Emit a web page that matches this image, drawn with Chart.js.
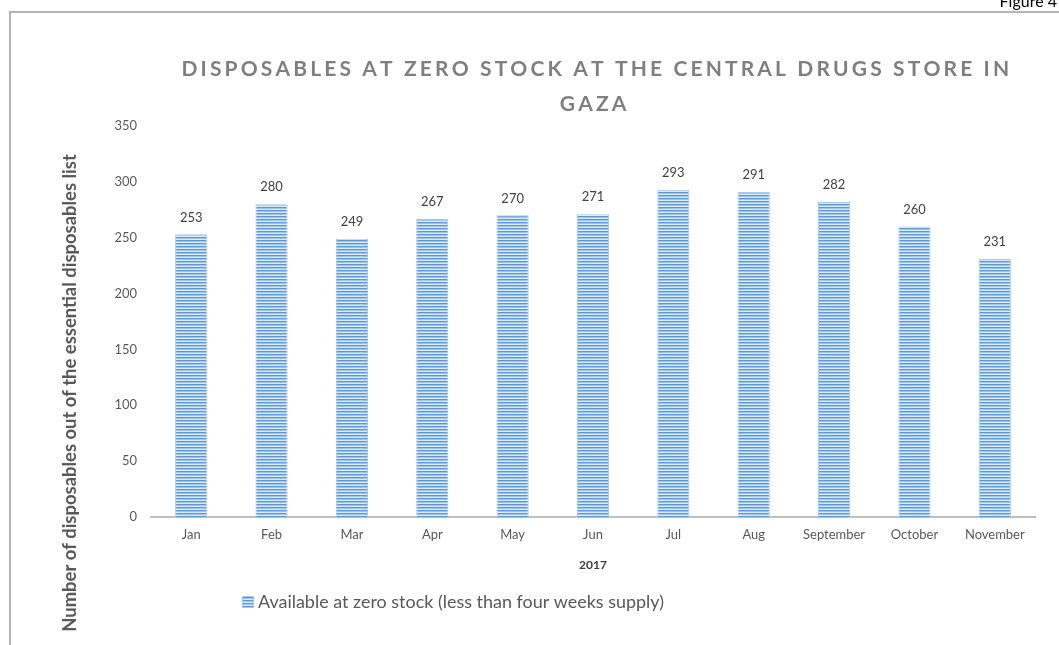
<!DOCTYPE html>
<html><head><meta charset="utf-8">
<script src="https://cdn.jsdelivr.net/npm/chart.js@4.4.1/dist/chart.umd.min.js"></script>
<style>html,body{margin:0;padding:0;background:#fff;overflow:hidden}#wrap{width:1059px;height:645px;position:relative}</style>
</head><body><div id="wrap"><canvas id="c" width="1059" height="645"></canvas></div>
<script>
const categories = ['Jan','Feb','Mar','Apr','May','Jun','Jul','Aug','September','October','November'];
const zeroStock = [253,280,249,267,270,271,293,291,282,260,231];
const yMin = 0, yMax = 350, yStep = 50;
const seriesName = 'Available at zero stock (less than four weeks supply)';
const chartTitle = ['DISPOSABLES AT ZERO STOCK AT THE CENTRAL DRUGS STORE IN', 'GAZA'];
const yAxisTitle = 'Number of disposables out of the essential disposables list';
const xAxisTitle = '2017';
const figureLabel = 'Figure 4';

const FONT = 'Lato, "Open Sans", "Liberation Sans", sans-serif';
const mctx = document.createElement('canvas').getContext('2d');
function fitSize(text, target, weight) {
  mctx.font = (weight || '') + ' 100px ' + FONT;
  return 100 * target / mctx.measureText(text).width;
}
const tickSize = Math.min(14, fitSize('September', 62, ''));
const ytSize = fitSize(yAxisTitle, 478, 'bold');
const legSize = fitSize(seriesName, 406, '');

const canvas = document.getElementById('c');
const ctx0 = canvas.getContext('2d');
function makePattern(ctx) {
  const p = document.createElement('canvas'); p.width = 4; p.height = 3;
  const g = p.getContext('2d');
  g.fillStyle = '#dce9f7'; g.fillRect(0, 0, 4, 3);
  g.fillStyle = '#5b9bd5'; g.fillRect(0, 0, 4, 1);
  g.fillStyle = '#9fc4ea'; g.fillRect(0, 1, 4, 1);
  return ctx.createPattern(p, 'repeat');
}
const barFill = makePattern(ctx0);

const decor = {
  id: 'decor',
  beforeDraw(chart) {
    const ctx = chart.ctx;
    ctx.save();
    ctx.fillStyle = '#fff'; ctx.fillRect(0, 0, chart.width, chart.height);
    ctx.strokeStyle = '#b4b4b4'; ctx.lineWidth = 2;
    ctx.strokeRect(10, 12, chart.width + 20, chart.height + 20);
    ctx.font = '16px ' + FONT; ctx.fillStyle = '#000';
    ctx.textAlign = 'right'; ctx.textBaseline = 'alphabetic';
    ctx.fillText(figureLabel, 1057, 7);
    ctx.restore();
  },
  afterDatasetsDraw(chart) {
    const ctx = chart.ctx;
    const meta = chart.getDatasetMeta(0);
    ctx.save();
    ctx.font = tickSize + 'px ' + FONT; ctx.fillStyle = '#404040';
    ctx.textAlign = 'center'; ctx.textBaseline = 'middle';
    meta.data.forEach((bar, i) => {
      ctx.fillText(String(zeroStock[i]), bar.x, bar.y - 17);
    });
    ctx.restore();
  },
  afterDraw(chart) {
    const ctx = chart.ctx;
    const area = chart.chartArea;
    const cx = (area.left + area.right) / 2;
    ctx.save();
    // title with letter spacing
    ctx.fillStyle = '#7f7f7f';
    ctx.font = 'bold 21px ' + FONT;
    ctx.textBaseline = 'middle'; ctx.textAlign = 'left';
    const line1 = chartTitle[0];
    const w0 = ctx.measureText(line1).width;
    const sp = (823 - w0) / (line1.length - 1);
    const ys = [69, 104];
    chartTitle.forEach((t, k) => {
      let x = cx - (ctx.measureText(t).width + sp * (t.length - 1)) / 2;
      for (const ch of t) {
        ctx.fillText(ch, x, ys[k]);
        x += ctx.measureText(ch).width + sp;
      }
    });
    // y axis title
    ctx.save();
    ctx.translate(70, 393); ctx.rotate(-Math.PI / 2);
    ctx.font = 'bold ' + ytSize + 'px ' + FONT; ctx.fillStyle = '#595959';
    ctx.textAlign = 'center'; ctx.textBaseline = 'middle';
    ctx.fillText(yAxisTitle, 0, 0);
    ctx.restore();
    // legend
    ctx.fillStyle = barFill; ctx.fillRect(242, 596, 12, 12);
    ctx.strokeStyle = '#a9c9ea'; ctx.lineWidth = 1; ctx.strokeRect(242.5, 596.5, 11, 11);
    ctx.font = legSize + 'px ' + FONT; ctx.fillStyle = '#595959';
    ctx.textAlign = 'left'; ctx.textBaseline = 'middle';
    ctx.fillText(seriesName, 258, 602);
    ctx.restore();
  }
};

new Chart(canvas, {
  type: 'bar',
  data: {
    labels: categories,
    datasets: [{
      label: seriesName,
      data: zeroStock,
      backgroundColor: barFill,
      borderColor: '#a9c9ea',
      borderWidth: 1,
      barPercentage: 0.4,
      categoryPercentage: 1
    }]
  },
  options: {
    responsive: false,
    animation: false,
    devicePixelRatio: 1,
    layout: { padding: { top: 126, right: 24, bottom: 68, left: 0 } },
    plugins: { legend: { display: false }, title: { display: false }, tooltip: { enabled: false } },
    scales: {
      x: {
        grid: { display: false, drawTicks: false },
        border: { display: true, color: '#bfbfbf', width: 2 },
        ticks: { color: '#595959', font: { family: FONT, size: tickSize }, padding: 10, maxRotation: 0, autoSkip: false },
        title: { display: true, text: xAxisTitle, color: '#404040', font: { family: FONT, size: 12, weight: 'bold' }, padding: { top: 0, bottom: 5 } },
        afterFit(s) { s.height = 60; }
      },
      y: {
        min: yMin, max: yMax,
        grid: { display: false, drawTicks: false },
        border: { display: false },
        ticks: { stepSize: yStep, color: '#595959', font: { family: FONT, size: tickSize }, padding: 14 },
        afterFit(s) { s.width = 151; }
      }
    }
  },
  plugins: [decor]
});
</script>
</body></html>
